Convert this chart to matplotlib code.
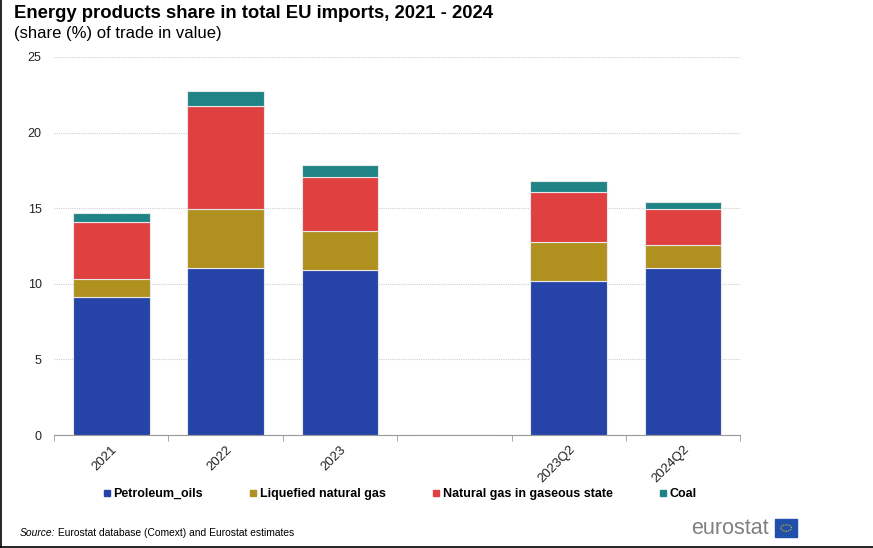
import matplotlib.pyplot as plt
import numpy as np
from matplotlib.lines import Line2D

plt.rcParams['font.family'] = ['Liberation Sans', 'DejaVu Sans']

categories = ['2021', '2022', '2023', '', '2023Q2', '2024Q2']
petroleum = [9.13, 11.04, 10.90, 0, 10.19, 11.04]
lng = [1.17, 3.91, 2.60, 0, 2.57, 1.53]
gas = [3.79, 6.81, 3.56, 0, 3.31, 2.38]
coal = [0.59, 0.99, 0.80, 0, 0.73, 0.46]

series = [
    ('Petroleum_oils', petroleum, '#2644A7'),
    ('Liquefied natural gas', lng, '#B09120'),
    ('Natural gas in gaseous state', gas, '#E04040'),
    ('Coal', coal, '#208486'),
]

fig = plt.figure(figsize=(8.73, 5.48), dpi=100)
ax = fig.add_axes([0.062, 0.206, 0.786, 0.690])

# stacked bars
x = np.arange(len(categories))
bottom = np.zeros(len(categories))
for name, vals, color in series:
    vals = np.array(vals)
    ax.bar(x, vals, 0.67, bottom=bottom, color=color, edgecolor='#e8e8e8',
           linewidth=0.8, zorder=3)
    bottom += vals

ax.set_xlim(-0.5, len(categories) - 0.5)
ax.set_ylim(0, 25)
ax.set_yticks([0, 5, 10, 15, 20, 25])
ax.grid(axis='y', color='#d0d0d0', linestyle=(0, (1, 1)), linewidth=0.8, zorder=0)
ax.tick_params(axis='y', length=0, labelsize=9, pad=9, colors='#222222')

ax.set_xticks(x)
ax.set_xticklabels(categories, rotation=45, ha='right', rotation_mode='anchor',
                   fontsize=9.5)
ax.tick_params(axis='x', which='major', length=0, pad=6, colors='#222222')
# small ticks between categories
ax.set_xticks(np.arange(-0.5, len(categories)), minor=True)
ax.tick_params(axis='x', which='minor', length=4, color='#999999')

for s in ['top', 'right', 'left']:
    ax.spines[s].set_visible(False)
ax.spines['bottom'].set_color('#999999')

fig.text(0.016, 0.976, 'Energy products share in total EU imports, 2021 - 2024',
         fontsize=13.3, fontweight='bold', va='center')
fig.text(0.016, 0.938, '(share (%) of trade in value)', fontsize=12, va='center')

handles = [Line2D([], [], marker='s', linestyle='none', markersize=4,
                  color=c, label=n) for n, _, c in series]
fig.legend(handles=handles, loc='center', bbox_to_anchor=(0.458, 0.098),
           ncol=4, frameon=False, handlelength=0.6, handletextpad=0.25,
           columnspacing=3.7, prop={'size': 9, 'weight': 'bold'})

# source line: italic "Source:" followed by plain text
src = fig.text(0.022, 0.027, 'Source:', fontsize=7.4, style='italic', va='center')
fig.canvas.draw()
bb = src.get_window_extent()
fig.text(bb.x1 / fig.bbox.width, 0.027,
         ' Eurostat database (Comext) and Eurostat estimates',
         fontsize=7.4, va='center')

# eurostat logo
fig.text(0.792, 0.035, 'eurostat', fontsize=15.5, color='#808080', va='center')
fig.patches.append(plt.Rectangle((0.888, 0.020), 0.025, 0.033,
                                 transform=fig.transFigure, color='#1f4fa8'))
fig.patches.append(plt.Circle((0.9005, 0.0365), 0.006,
                              transform=fig.transFigure, fill=False,
                              edgecolor='#d8c020', linewidth=0.8,
                              linestyle=(0, (1, 1))))

# frame on left and bottom edges
fig.add_artist(Line2D([0.001, 0.001], [0, 1], color='black', linewidth=1.2))
fig.add_artist(Line2D([0, 1], [0.002, 0.002], color='black', linewidth=1.2))

fig.savefig('out.png', dpi=100)
